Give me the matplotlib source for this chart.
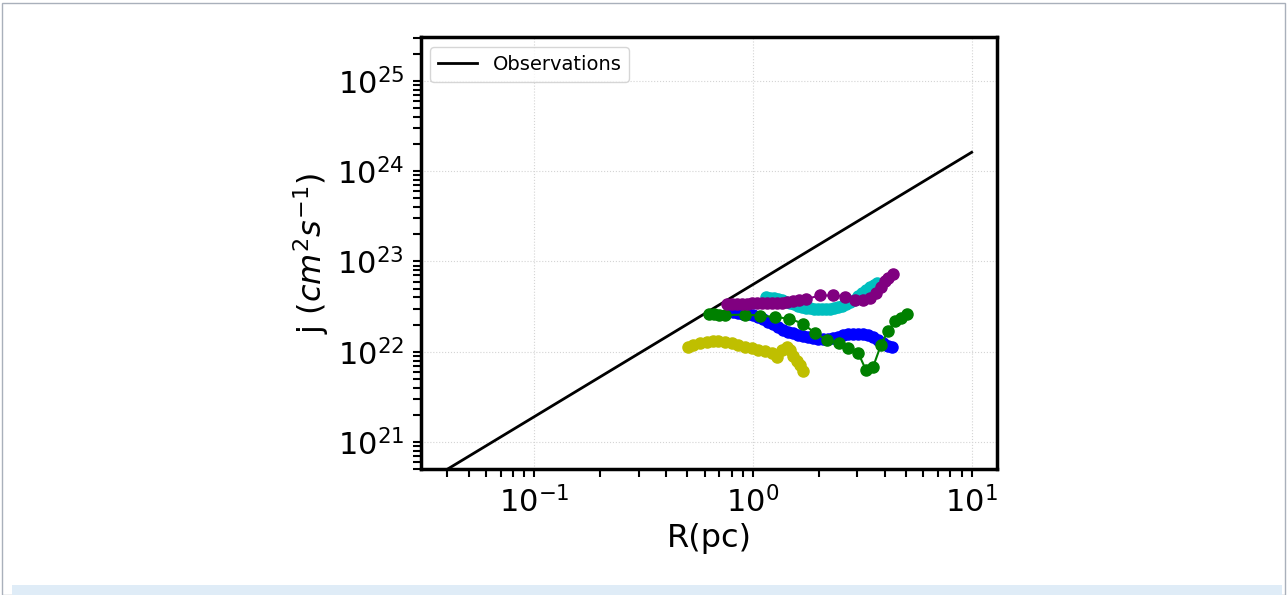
import matplotlib
matplotlib.use("Agg")
import matplotlib.pyplot as plt
from matplotlib.patches import Rectangle

# Observed specific angular momentum relation
obs_R = [0.04, 10.0]
obs_j = [5.0e20, 1.62e24]

# Simulated profiles: radius (pc) and specific angular momentum (cm^2 s^-1)
blue_R = [0.810, 0.854, 0.900, 0.949, 1.000, 1.054, 1.111, 1.171, 1.234, 1.301,
          1.371, 1.446, 1.523, 1.606, 1.693, 1.784, 1.881, 1.983, 2.090, 2.203,
          2.322, 2.447, 2.579, 2.719, 2.866, 3.021, 3.184, 3.356, 3.538, 3.729,
          3.930, 4.143, 4.321]
blue_j = [2.75e22, 2.68e22, 2.65e22, 2.62e22, 2.55e22, 2.45e22, 2.30e22, 2.16e22,
          2.03e22, 1.88e22, 1.76e22, 1.67e22, 1.61e22, 1.55e22, 1.51e22, 1.46e22,
          1.42e22, 1.38e22, 1.37e22, 1.38e22, 1.42e22, 1.47e22, 1.53e22, 1.57e22,
          1.59e22, 1.59e22, 1.57e22, 1.53e22, 1.47e22, 1.35e22, 1.25e22, 1.16e22,
          1.13e22]

green_R = [0.629, 0.663, 0.699, 0.745, 0.919, 1.077, 1.261, 1.461, 1.693, 1.920,
           2.180, 2.474, 2.719, 3.021, 3.287, 3.538, 3.848, 4.143, 4.460, 4.751,
           5.062]
green_j = [2.65e22, 2.62e22, 2.58e22, 2.55e22, 2.58e22, 2.52e22, 2.42e22, 2.33e22,
           2.05e22, 1.61e22, 1.35e22, 1.25e22, 1.11e22, 0.98e22, 0.627e22, 0.677e22,
           1.19e22, 1.70e22, 2.19e22, 2.36e22, 2.62e22]

yellow_R = [0.506, 0.533, 0.572, 0.614, 0.658, 0.694, 0.745, 0.799, 0.857, 0.919,
            0.986, 1.057, 1.135, 1.218, 1.284, 1.353, 1.426, 1.476, 1.529, 1.584,
            1.640, 1.698]
yellow_j = [1.12e22, 1.19e22, 1.24e22, 1.28e22, 1.31e22, 1.32e22, 1.29e22, 1.24e22,
            1.19e22, 1.14e22, 1.09e22, 1.04e22, 1.03e22, 0.975e22, 0.88e22, 1.04e22,
            1.12e22, 1.04e22, 0.896e22, 0.795e22, 0.712e22, 0.616e22]

cyan_R = [1.147, 1.196, 1.247, 1.301, 1.357, 1.415, 1.476, 1.540, 1.606, 1.675,
          1.747, 1.822, 1.901, 1.983, 2.068, 2.157, 2.250, 2.346, 2.447, 2.553,
          2.662, 2.777, 2.896, 3.021, 3.151, 3.287, 3.428, 3.576, 3.690]
cyan_j = [4.04e22, 3.99e22, 3.94e22, 3.84e22, 3.74e22, 3.60e22, 3.46e22, 3.38e22,
          3.25e22, 3.17e22, 3.09e22, 3.05e22, 3.01e22, 2.97e22, 2.97e22, 2.97e22,
          3.01e22, 3.05e22, 3.13e22, 3.25e22, 3.38e22, 3.55e22, 3.79e22, 4.14e22,
          4.53e22, 4.89e22, 5.21e22, 5.55e22, 5.85e22]

purple_R = [0.761, 0.802, 0.845, 0.891, 0.939, 0.990, 1.043, 1.099, 1.159, 1.221,
            1.288, 1.357, 1.431, 1.523, 1.623, 1.747, 2.025, 2.322, 2.634, 2.927,
            3.184, 3.428, 3.651, 3.848, 4.015, 4.143, 4.366]
purple_j = [3.38e22, 3.38e22, 3.42e22, 3.42e22, 3.42e22, 3.46e22, 3.46e22, 3.46e22,
            3.46e22, 3.51e22, 3.51e22, 3.51e22, 3.55e22, 3.65e22, 3.74e22, 3.84e22,
            4.20e22, 4.20e22, 4.09e22, 3.79e22, 3.74e22, 3.89e22, 4.47e22, 5.21e22,
            6.07e22, 6.56e22, 7.26e22]

fig = plt.figure(figsize=(12.87, 5.95), dpi=100)

# page frame and bottom band
fig.add_artist(Rectangle((0.0015, 0.0), 0.997, 0.995, transform=fig.transFigure,
                         fill=False, edgecolor="#a9b0bb", lw=1.0))
fig.add_artist(Rectangle((12 / 1287, 0.0), (1282 - 12) / 1287, 10 / 595,
                         transform=fig.transFigure, facecolor="#dfecf7",
                         edgecolor="none"))

ax = fig.add_axes([0.3269, 0.2113, 0.448, 0.7257])

ax.plot(obs_R, obs_j, color="k", lw=2.0, label="Observations", zorder=3)

series = [
    (blue_R, blue_j, "b"),
    (green_R, green_j, "g"),
    (yellow_R, yellow_j, "y"),
    (cyan_R, cyan_j, "c"),
    (purple_R, purple_j, "purple"),
]
for R, j, col in series:
    ax.plot(R, j, "-o", color=col, ms=8, lw=1.5, zorder=4)

ax.set_xscale("log")
ax.set_yscale("log")
ax.set_xlim(0.0302, 13.1)
ax.set_ylim(4.99e20, 3.03e25)

ax.grid(True, which="major", color="#d4d4d4", linestyle=":", linewidth=0.8)
ax.set_axisbelow(True)

for s in ax.spines.values():
    s.set_linewidth(2.5)
ax.tick_params(which="both", direction="out", length=6, width=1.5,
               labelsize=22, pad=6)

ax.set_xlabel("R(pc)", fontsize=23, labelpad=3)
ax.set_ylabel(r"j $(cm^2 s^{-1})$", fontsize=23)

ax.legend(loc="upper left", fontsize=14)

fig.savefig("out.png", dpi=100)
